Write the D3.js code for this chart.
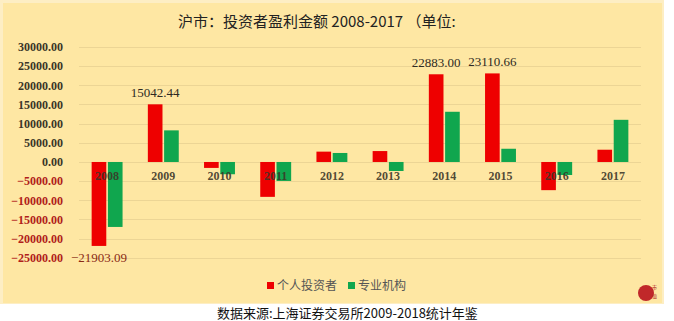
<!DOCTYPE html>
<html>
<head>
<meta charset="utf-8">
<script src="https://cdn.jsdelivr.net/npm/d3@7"></script>
<style>
  html, body { margin: 0; padding: 0; background: #fff; }
  svg { display: block; }
</style>
</head>
<body>
<div id="chart"></div>
<script>
// 年份与两组数值（单位：亿元，从图上读取）
const years = ['2008', '2009', '2010', '2011', '2012', '2013', '2014', '2015', '2016', '2017'];
const seriesNames = ['个人投资者', '专业机构'];
const seriesColors = ['#ee0000', '#10a64e'];
const retail = [-21903.09, 15042.44, -1550, -9100, 2700, 2850, 22883.00, 23110.66, -7350, 3200];
const institution = [-16950, 8250, -3200, -4950, 2350, -2350, 13100, 3450, -3400, 11000];
const labelled = { '2008': -21903.09, '2009': 15042.44, '2014': 22883.00, '2015': 23110.66 };
const yTicks = [30000, 25000, 20000, 15000, 10000, 5000, 0, -5000, -10000, -15000, -20000, -25000];

const width = 674, height = 321;
const svg = d3.select('#chart').append('svg').attr('width', width).attr('height', height);

// 背景面板
svg.append('rect').attr('width', width).attr('height', height).attr('fill', '#ffffff');
svg.append('rect').attr('x', 0).attr('y', 0).attr('width', 664).attr('height', 304).attr('fill', '#fdeec4');
svg.append('rect').attr('x', 3).attr('y', 3).attr('width', 659).attr('height', 300).attr('fill', '#fee7a3');

const y = d3.scaleLinear().domain([-25000, 30000]).range([257.8, 47]);
const x0 = d3.scaleBand().domain(years).range([79, 641]).paddingInner(0.45).paddingOuter(0.225);
const x1 = d3.scaleBand().domain([0, 1]).range([0, x0.bandwidth()]).paddingInner(0.1);

// 网格线
svg.append('g').selectAll('line').data(yTicks).enter().append('line')
  .attr('x1', 79).attr('x2', 641)
  .attr('y1', d => Math.round(y(d)) + 0.5).attr('y2', d => Math.round(y(d)) + 0.5)
  .attr('stroke', '#ecd595').attr('stroke-width', 1);

// Y 轴标签
svg.append('g').selectAll('text').data(yTicks).enter().append('text')
  .attr('x', 63).attr('y', d => y(d)).attr('dy', '0.35em')
  .attr('text-anchor', 'end')
  .attr('font-family', '"Liberation Serif", "DejaVu Serif", serif')
  .attr('font-weight', 'bold').attr('font-size', '12px')
  .attr('fill', d => d < 0 ? '#b0201a' : '#3b3528')
  .text(d => d3.format('.2f')(d));

// 柱子
const rows = years.map((yr, i) => ({ year: yr, values: [retail[i], institution[i]] }));
const groups = svg.append('g').selectAll('g').data(rows).enter().append('g')
  .attr('transform', d => `translate(${x0(d.year)},0)`);

groups.selectAll('rect').data(d => d.values.map((v, k) => ({ v, k }))).enter().append('rect')
  .attr('x', d => x1(d.k))
  .attr('width', x1.bandwidth())
  .attr('y', d => y(Math.max(0, d.v)))
  .attr('height', d => Math.abs(y(d.v) - y(0)))
  .attr('fill', d => seriesColors[d.k]);

// 年份标签
svg.append('g').selectAll('text').data(years).enter().append('text')
  .attr('x', d => x0(d) + x0.bandwidth() / 2).attr('y', 176).attr('dy', '0.35em')
  .attr('text-anchor', 'middle')
  .attr('font-family', '"Liberation Serif", "DejaVu Serif", serif')
  .attr('font-weight', 'bold').attr('font-size', '12px')
  .attr('fill', '#3b3528').attr('fill-opacity', 0.9)
  .text(d => d);

// 数值标签
svg.append('g').selectAll('text').data(Object.entries(labelled)).enter().append('text')
  .attr('x', d => x0(d[0]) + x1(0) + x1.bandwidth() / 2)
  .attr('y', d => d[1] >= 0 ? y(d[1]) - 7 : y(d[1]) + 16)
  .attr('text-anchor', 'middle')
  .attr('font-family', '"Liberation Serif", "DejaVu Serif", serif')
  .attr('font-size', '13px')
  .attr('fill', d => d[1] < 0 ? '#8a2a14' : '#2e2a22')
  .text(d => d3.format('.2f')(d[1]));

// 标题
svg.append('text').attr('x', 178).attr('y', 27)
  .attr('font-family', '"Noto Sans CJK SC", sans-serif').attr('font-size', '15px')
  .attr('fill', '#222')
  .text('沪市：投资者盈利金额 2008-2017 （单位:');

// 图例
const legend = svg.append('g').selectAll('g').data(seriesNames).enter().append('g')
  .attr('transform', (d, i) => `translate(${267 + i * 81},281)`);
legend.append('rect').attr('width', 7).attr('height', 7).attr('y', 1).attr('fill', (d, i) => seriesColors[i]);
legend.append('text').attr('x', 10).attr('y', 9)
  .attr('font-family', '"Noto Sans CJK SC", sans-serif').attr('font-size', '12px')
  .attr('fill', '#555').text(d => d);

// 小徽标
svg.append('circle').attr('cx', 646).attr('cy', 293).attr('r', 8).attr('fill', '#c0282a');
svg.append('text').attr('x', 652).attr('y', 289)
  .attr('font-family', '"Noto Sans CJK SC", serif').attr('font-size', '5px')
  .attr('fill', '#b02020').text('市');
svg.append('text').attr('x', 652).attr('y', 298)
  .attr('font-family', '"Noto Sans CJK SC", serif').attr('font-size', '5px')
  .attr('fill', '#b02020').text('值');

// 数据来源
svg.append('text').attr('x', 217).attr('y', 318)
  .attr('font-family', '"Noto Sans CJK SC", sans-serif').attr('font-size', '13px')
  .attr('fill', '#111')
  .text('数据来源:上海证券交易所2009-2018统计年鉴');
</script>
</body>
</html>
